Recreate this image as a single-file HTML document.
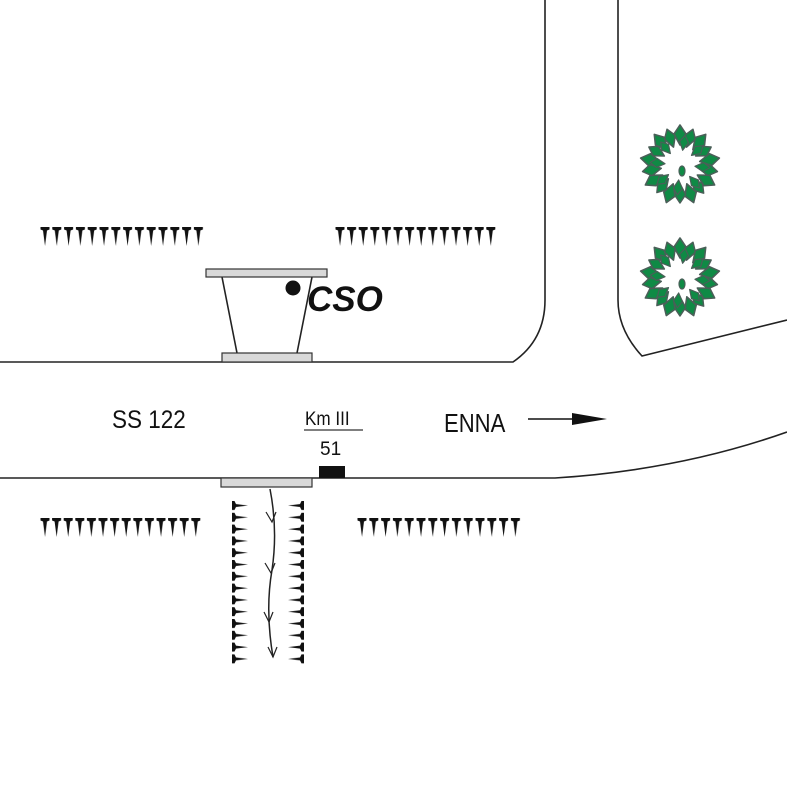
<!DOCTYPE html>
<html><head><style>html,body{margin:0;padding:0;background:#fff;width:787px;height:787px;overflow:hidden}</style></head>
<body>
<svg width="787" height="787" viewBox="0 0 787 787" xmlns="http://www.w3.org/2000/svg">
<defs>
<pattern id="tv" x="40" y="227" width="11.8" height="22" patternUnits="userSpaceOnUse">
<path d="M0.5,0 L9.5,0 L9.5,2.5 L7,3.5 L5,19 L3,3.5 L0.5,2.5 Z" fill="#111"/>
</pattern>
<pattern id="tv2" x="335" y="227" width="11.6" height="22" patternUnits="userSpaceOnUse">
<path d="M0.5,0 L9.5,0 L9.5,2.5 L7,3.5 L5,19 L3,3.5 L0.5,2.5 Z" fill="#111"/>
</pattern>
<pattern id="tv3" x="40" y="518" width="11.6" height="22" patternUnits="userSpaceOnUse">
<path d="M0.5,0 L9.5,0 L9.5,2.5 L7,3.5 L5,19 L3,3.5 L0.5,2.5 Z" fill="#111"/>
</pattern>
<pattern id="tv4" x="357" y="518" width="11.8" height="22" patternUnits="userSpaceOnUse">
<path d="M0.5,0 L9.5,0 L9.5,2.5 L7,3.5 L5,19 L3,3.5 L0.5,2.5 Z" fill="#111"/>
</pattern>
<pattern id="tl" x="232" y="500" width="18" height="11.8" patternUnits="userSpaceOnUse">
<path d="M0,1 L0,10 L2.5,10 L4,7 L16,5.5 L4,4 L2.5,1 Z" fill="#111"/>
</pattern>
<pattern id="tr" x="288" y="500" width="16" height="11.8" patternUnits="userSpaceOnUse">
<path d="M16,1 L16,10 L13.5,10 L12,7 L0,5.5 L12,4 L13.5,1 Z" fill="#111"/>
</pattern>
<g id="leaf"><path d="M0,-40 L6,-31 L0,-20 L-6,-31 Z" fill="#0f8a45" stroke="#4a5f58" stroke-width="1.6" stroke-linejoin="round"/></g>
<g id="tree">
<use href="#leaf" transform="rotate(0)"/><use href="#leaf" transform="rotate(20) scale(0.95)"/>
<use href="#leaf" transform="rotate(40)"/><use href="#leaf" transform="rotate(60) scale(0.9)"/>
<use href="#leaf" transform="rotate(80)"/><use href="#leaf" transform="rotate(100) scale(0.95)"/>
<use href="#leaf" transform="rotate(120)"/><use href="#leaf" transform="rotate(140) scale(0.92)"/>
<use href="#leaf" transform="rotate(160)"/><use href="#leaf" transform="rotate(180) scale(0.95)"/>
<use href="#leaf" transform="rotate(200)"/><use href="#leaf" transform="rotate(220) scale(0.9)"/>
<use href="#leaf" transform="rotate(240)"/><use href="#leaf" transform="rotate(260) scale(0.95)"/>
<use href="#leaf" transform="rotate(280)"/><use href="#leaf" transform="rotate(300) scale(0.9)"/>
<use href="#leaf" transform="rotate(320)"/><use href="#leaf" transform="rotate(340) scale(0.95)"/>
<g transform="scale(0.75)"><use href="#leaf" transform="rotate(10)"/><use href="#leaf" transform="rotate(50)"/><use href="#leaf" transform="rotate(95)"/><use href="#leaf" transform="rotate(140)"/><use href="#leaf" transform="rotate(185)"/><use href="#leaf" transform="rotate(230)"/><use href="#leaf" transform="rotate(275)"/><use href="#leaf" transform="rotate(320)"/></g>
<ellipse cx="2" cy="6" rx="3" ry="5" fill="#0f8a45" stroke="#4a5f58" stroke-width="1.2"/>
</g>
</defs>

<g fill="none" stroke="#222" stroke-width="1.6">
<path d="M0,362 L513,362 Q545,340 545,300 L545,0"/>
<path d="M618,0 L618,300 Q618,330 642,356 L787,320"/>
<path d="M0,478 L555,478 Q680,470 787,432"/>
<path d="M222,277 L237,353 M312,277 L297,353"/>
</g>

<rect x="206" y="269" width="121" height="8" fill="#d9d9d9" stroke="#333" stroke-width="1.2"/>
<rect x="222" y="353" width="90" height="9" fill="#d9d9d9" stroke="#333" stroke-width="1.2"/>
<circle cx="293" cy="288" r="7.5" fill="#111"/>
<text x="307" y="311" font-family="Liberation Sans, sans-serif" font-size="35" font-weight="bold" font-style="italic" fill="#111">CSO</text>

<rect x="221" y="478" width="91" height="9" fill="#d9d9d9" stroke="#333" stroke-width="1.2"/>
<rect x="319" y="466" width="26" height="12" fill="#111"/>

<rect x="40" y="227" width="165" height="20" fill="url(#tv)"/>
<rect x="335" y="227" width="162" height="20" fill="url(#tv2)"/>
<rect x="40" y="518" width="162" height="20" fill="url(#tv3)"/>
<rect x="357" y="518" width="165" height="20" fill="url(#tv4)"/>
<rect x="232" y="500" width="17" height="165" fill="url(#tl)"/>
<rect x="288" y="500" width="16" height="165" fill="url(#tr)"/>

<path d="M270,489 Q278,530 272,570 Q265,610 273,657" fill="none" stroke="#222" stroke-width="1.5"/>
<g fill="none" stroke="#222" stroke-width="1.2">
<path d="M266,512 L272,522 L276,512"/>
<path d="M265,563 L271,573 L275,563"/>
<path d="M264,612 L269,622 L273,612"/>
<path d="M268,647 L273,657 L277,647"/>
</g>

<text x="112" y="428" font-family="Liberation Sans, sans-serif" font-size="25" fill="#111" transform="translate(112,0) scale(0.9,1) translate(-112,0)">SS 122</text>
<text x="305" y="425" font-family="Liberation Sans, sans-serif" font-size="19" fill="#111" transform="translate(305,0) scale(0.9,1) translate(-305,0)">Km III</text>
<line x1="304" y1="430" x2="363" y2="430" stroke="#333" stroke-width="1.2"/>
<text x="320" y="455" font-family="Liberation Sans, sans-serif" font-size="19" fill="#111">51</text>
<text x="444" y="432" font-family="Liberation Sans, sans-serif" font-size="26" fill="#111" transform="translate(444,0) scale(0.85,1) translate(-444,0)">ENNA</text>
<line x1="528" y1="419" x2="580" y2="419" stroke="#111" stroke-width="1.5"/>
<path d="M572,413 L607,419 L572,425 Z" fill="#111"/>

<use href="#tree" transform="translate(680,165)"/>
<use href="#tree" transform="translate(680,278)"/>
</svg>
</body></html>
